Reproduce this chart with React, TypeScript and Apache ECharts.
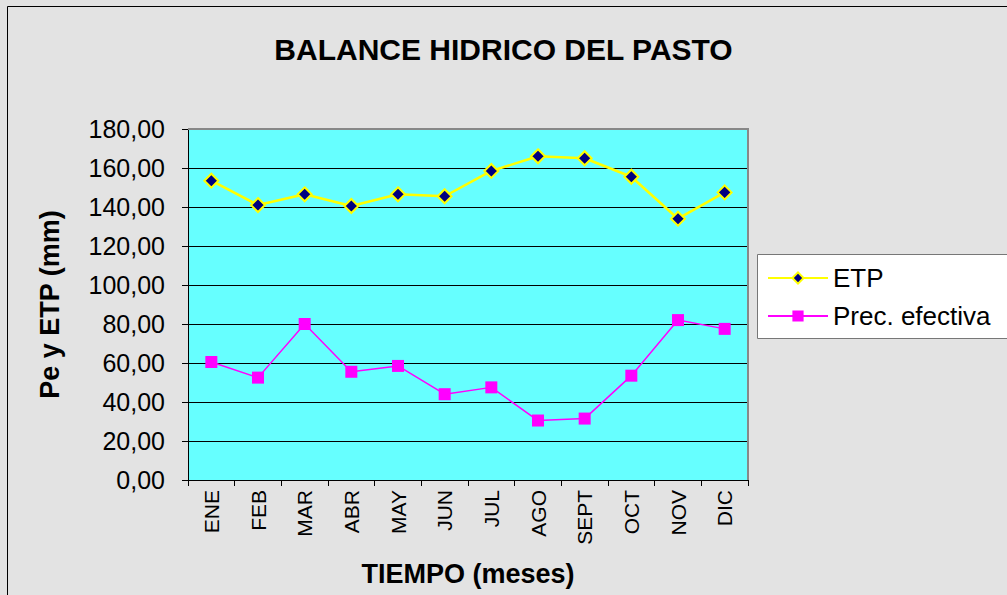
import React, { useEffect, useRef } from "react";
import * as echarts from "echarts";

const months = ["ENE", "FEB", "MAR", "ABR", "MAY", "JUN", "JUL", "AGO", "SEPT", "OCT", "NOV", "DIC"];
const etp = [153.5, 141, 146.5, 140.5, 146.5, 145.5, 158.5, 166, 165, 155.5, 134, 147.5];
const precEfectiva = [60.5, 52.5, 80, 55.5, 58.5, 44, 47.5, 30.5, 31.5, 53.5, 82, 77.5];

const FONT = "Liberation Sans, Arial, sans-serif";

export default function App() {
  const ref = useRef<HTMLDivElement>(null);
  useEffect(() => {
    document.body.style.margin = "0";
    const chart = echarts.init(ref.current!, undefined, { renderer: "svg" });
    chart.setOption({
      animation: false,
      backgroundColor: "#e3e3e3",
      textStyle: { fontFamily: FONT },
      title: {
        text: "BALANCE HIDRICO DEL PASTO",
        left: "center",
        top: 29,
        textStyle: { fontFamily: FONT, fontSize: 30, fontWeight: "bold", color: "#000" },
      },
      graphic: [
        {
          type: "rect",
          shape: { x: 7.5, y: 6.5, width: 1100, height: 700 },
          style: { fill: "none", stroke: "#000", lineWidth: 1 },
          silent: true,
        },
        {
          type: "rect",
          shape: { x: 757.5, y: 254.5, width: 400, height: 84 },
          style: { fill: "#fff", stroke: "#777", lineWidth: 1 },
          silent: true,
          z: 1,
        },
        {
          type: "polyline",
          shape: { points: [[188, 129], [748, 129], [748, 480]] },
          style: { fill: "none", stroke: "#888", lineWidth: 2 },
          silent: true,
          z: 10,
        },
      ],
      legend: {
        orient: "vertical",
        left: 757,
        top: 254,
        padding: [11, 10, 10, 10],
        itemWidth: 60,
        itemHeight: 14,
        itemGap: 12,
        z: 20,
        textStyle: { fontFamily: FONT, fontSize: 26, color: "#000" },
        data: ["ETP", "Prec. efectiva"],
      },
      grid: { left: 188, top: 129, width: 560, height: 351, containLabel: false, show: true, backgroundColor: "#66ffff", borderWidth: 0 },
      xAxis: {
        type: "category",
        data: months,
        boundaryGap: true,
        name: "TIEMPO (meses)",
        nameLocation: "middle",
        nameGap: 80,
        nameTextStyle: { fontFamily: FONT, fontSize: 27, fontWeight: "bold", color: "#000" },
        axisLine: { lineStyle: { color: "#000", width: 1 } },
        axisTick: { show: true, length: 6, lineStyle: { color: "#000" } },
        axisLabel: { rotate: 90, fontFamily: FONT, fontSize: 21, color: "#000", margin: 10 },
        splitLine: { show: false },
      },
      yAxis: {
        type: "value",
        min: 0,
        max: 180,
        interval: 20,
        name: "Pe y ETP (mm)",
        nameLocation: "middle",
        nameGap: 125,
        nameTextStyle: { fontFamily: FONT, fontSize: 27, fontWeight: "bold", color: "#000" },
        axisLine: { show: true, lineStyle: { color: "#000", width: 1 } },
        axisTick: { show: true, length: 6, lineStyle: { color: "#000" } },
        axisLabel: {
          fontFamily: FONT,
          fontSize: 25,
          color: "#000",
          margin: 23,
          formatter: (v: number) => v.toFixed(2).replace(".", ","),
        },
        splitLine: { show: true, lineStyle: { color: "#000", width: 1 } },
      },
      series: [
        {
          name: "ETP",
          type: "line",
          data: etp,
          symbol: "diamond",
          symbolSize: 14,
          lineStyle: { color: "#ffff00", width: 2.5 },
          itemStyle: { color: "#000080", borderColor: "#ffff00", borderWidth: 2 },
          z: 5,
        },
        {
          name: "Prec. efectiva",
          type: "line",
          data: precEfectiva,
          symbol: "rect",
          symbolSize: 12,
          lineStyle: { color: "#ff00ff", width: 1.5 },
          itemStyle: { color: "#ff00ff", borderColor: "#ff00ff", borderWidth: 0 },
          z: 5,
        },
      ],
    });
    return () => chart.dispose();
  }, []);
  return <div ref={ref} style={{ width: 1007, height: 595 }} />;
}
